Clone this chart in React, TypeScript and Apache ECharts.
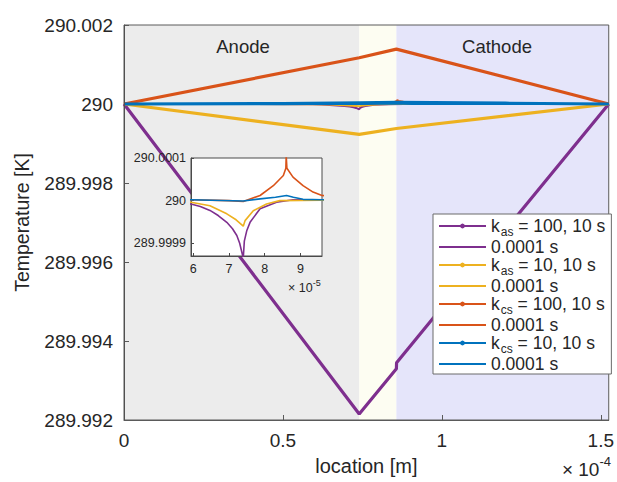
import React, { useEffect, useRef } from "react";
import * as echarts from "echarts";

const FONT = '"Liberation Sans", Arial, Helvetica, sans-serif';
const TXT = "#262626";

const PURPLE = "#7E2F8E";
const YELLOW = "#EDB120";
const ORANGE = "#D95319";
const BLUE = "#0072BD";

// region boundaries [m]
const anodeEnd = 0.74e-4;
const sepEnd = 0.857e-4;
const cellEnd = 1.525e-4;

// 10 s profiles
const kas100LongX = [0, 0.74e-4, 0.857e-4, 0.8575e-4, 1.525e-4];
const kas100LongT = [290, 289.99215, 289.9933, 289.99345, 290];
const kas10LongX = [0, 0.74e-4, 0.857e-4, 1.525e-4];
const kas10LongT = [290, 289.99923, 289.99938, 290];
const kcs100LongX = [0, 0.74e-4, 0.857e-4, 1.525e-4];
const kcs100LongT = [290, 290.00117, 290.00139, 290];
const kcs10LongX = [0, 0.5e-4, 0.74e-4, 0.857e-4, 1.2e-4, 1.525e-4];
const kcs10LongT = [290, 290.00001, 290.00003, 290.00004, 290.00002, 290];

// 0.0001 s profiles
const kas100ShortX = [0, 4.0e-5, 5.94e-5, 6.2e-5, 6.47e-5, 6.7e-5, 6.94e-5, 7.1e-5, 7.22e-5, 7.3e-5, 7.4e-5, 7.43e-5, 7.5e-5, 7.59e-5, 7.87e-5, 8.33e-5, 8.79e-5, 9.6e-5, 1.525e-4];
const kas100ShortT = [290, 289.999998, 289.999992, 289.999986, 289.999977, 289.999965, 289.999949, 289.999934, 289.999918, 289.9999, 289.999865, 289.999905, 289.99993, 289.999949, 289.999981, 289.999996, 290.000002, 290.000002, 290];
const kas10ShortX = [0, 4.0e-5, 5.94e-5, 6.47e-5, 6.94e-5, 7.2e-5, 7.4e-5, 7.45e-5, 7.68e-5, 8.05e-5, 8.42e-5, 9.6e-5, 1.525e-4];
const kas10ShortT = [290, 289.999999, 289.999996, 289.999988, 289.999969, 289.999955, 289.99994, 289.999953, 289.999976, 289.999992, 290, 290.000001, 290];
const kcs100ShortX = [0, 5.94e-5, 7.0e-5, 7.4e-5, 7.87e-5, 8.24e-5, 8.52e-5, 8.59e-5, 8.6e-5, 8.62e-5, 8.79e-5, 9.07e-5, 9.35e-5, 9.6e-5, 1.2e-4, 1.525e-4];
const kcs100ShortT = [290, 290.000002, 290, 289.999998, 290.000012, 290.000035, 290.000059, 290.000076, 290.000105, 290.000076, 290.000055, 290.000035, 290.00002, 290.000012, 290.000003, 290];
const kcs10ShortX = [0, 5.94e-5, 7.4e-5, 7.87e-5, 8.3e-5, 8.61e-5, 8.8e-5, 9.07e-5, 9.6e-5, 1.525e-4];
const kcs10ShortT = [290, 290.000002, 289.999999, 290.000004, 290.000008, 290.000012, 290.000008, 290.000003, 290.000002, 290];

// axes
const mainXTicks = { min: 0, max: 1.525e-4, interval: 0.5e-4 };
const mainYTicks = { min: 289.992, max: 290.002, interval: 0.002 };
const insetXTicks = [6e-5, 7e-5, 8e-5, 9e-5];
const insetYTicks = [289.9999, 290, 290.0001];
const insetXRange = [5.94e-5, 9.6e-5];
const insetYRange = [289.99987, 290.0001];

const seriesKeys = ["kas100L", "kas100S", "kas10L", "kas10S", "kcs100L", "kcs100S", "kcs10L", "kcs10S"];
const legendLabels = [
  "{m|k}{s|as}{m| = 100, 10 s}",
  "{m|0.0001 s}",
  "{m|k}{s|as}{m| = 10, 10 s}",
  "{m|0.0001 s}",
  "{m|k}{s|cs}{m| = 100, 10 s}",
  "{m|0.0001 s}",
  "{m|k}{s|cs}{m| = 10, 10 s}",
  "{m|0.0001 s}",
];

const zip = (xs: number[], ys: number[]) => xs.map((x, i) => [x, ys[i]]);

export default function App() {
  const ref = useRef<HTMLDivElement>(null);
  useEffect(() => {
    if (!ref.current) return;
    const chart = echarts.init(ref.current, null, { renderer: "svg" });

    const longSeries = (name: string, color: string, xs: number[], ts: number[]) => ({
      name,
      type: "line",
      data: zip(xs, ts),
      xAxisIndex: 0,
      yAxisIndex: 0,
      symbol: "circle",
      symbolSize: 4,
      showSymbol: false,
      lineStyle: { color, width: 3.2 },
      itemStyle: { color },
      z: 3,
      silent: true,
    });
    const shortSeries = (name: string, color: string, xs: number[], ts: number[]) => ({
      name,
      type: "line",
      data: zip(xs, ts),
      xAxisIndex: 0,
      yAxisIndex: 0,
      symbol: "none",
      lineStyle: { color, width: 2 },
      itemStyle: { color },
      z: 3,
      silent: true,
    });
    const insetSeries = (color: string, xs: number[], ts: number[]) => ({
      name: "inset",
      type: "line",
      data: zip(xs, ts),
      xAxisIndex: 1,
      yAxisIndex: 1,
      symbol: "none",
      clip: true,
      lineStyle: { color, width: 1.6 },
      z: 7,
      silent: true,
    });

    const nameMap: Record<string, string> = {};
    seriesKeys.forEach((k, i) => (nameMap[k] = legendLabels[i]));

    chart.setOption({
      animation: false,
      backgroundColor: "#ffffff",
      textStyle: { fontFamily: FONT },
      grid: [
        { left: 124, top: 25, width: 488, height: 395, show: true, borderColor: "#5a5a5a", borderWidth: 1, z: 2 },
        { left: 191, top: 158, width: 131, height: 98, show: true, backgroundColor: "#ffffff", borderColor: "#4a4a4a", borderWidth: 1, z: 5 },
      ],
      xAxis: [
        {
          type: "value",
          gridIndex: 0,
          min: mainXTicks.min,
          max: mainXTicks.max,
          interval: mainXTicks.interval,
          z: 2,
          name: "location [m]",
          nameLocation: "middle",
          nameGap: 36,
          nameTextStyle: { fontSize: 20, color: TXT, fontFamily: FONT },
          axisLine: { show: true, lineStyle: { color: "#5a5a5a" } },
          axisTick: { show: true, inside: true, length: 5, lineStyle: { color: "#5a5a5a" } },
          axisLabel: { fontSize: 19, color: TXT, fontFamily: FONT, margin: 11, formatter: (v: number) => String(+(v * 1e4).toFixed(2)) },
          splitLine: { show: false },
        },
        {
          type: "value",
          gridIndex: 1,
          min: insetXRange[0],
          max: insetXRange[1],
          z: 6,
          axisLine: { show: true, lineStyle: { color: "#4a4a4a" } },
          axisTick: { show: true, inside: true, length: 3, customValues: insetXTicks, lineStyle: { color: "#4a4a4a" } },
          axisLabel: { fontSize: 12.5, color: TXT, fontFamily: FONT, margin: 6, customValues: insetXTicks, formatter: (v: number) => String(Math.round(v * 1e5)) },
          splitLine: { show: false },
        },
      ],
      yAxis: [
        {
          type: "value",
          gridIndex: 0,
          min: mainYTicks.min,
          max: mainYTicks.max,
          interval: mainYTicks.interval,
          z: 2,
          name: "Temperature [K]",
          nameLocation: "middle",
          nameGap: 92,
          nameTextStyle: { fontSize: 19.5, color: TXT, fontFamily: FONT },
          axisLine: { show: true, lineStyle: { color: "#5a5a5a" } },
          axisTick: { show: true, inside: true, length: 5, lineStyle: { color: "#5a5a5a" } },
          axisLabel: { fontSize: 19, color: TXT, fontFamily: FONT, margin: 11, formatter: (v: number) => String(+v.toFixed(3)) },
          splitLine: { show: false },
        },
        {
          type: "value",
          gridIndex: 1,
          min: insetYRange[0],
          max: insetYRange[1],
          z: 6,
          axisLine: { show: true, lineStyle: { color: "#4a4a4a" } },
          axisTick: { show: true, inside: true, length: 3, customValues: insetYTicks, lineStyle: { color: "#4a4a4a" } },
          axisLabel: { fontSize: 12.5, color: TXT, fontFamily: FONT, margin: 5, customValues: insetYTicks, formatter: (v: number) => String(+v.toFixed(4)) },
          splitLine: { show: false },
        },
      ],
      legend: {
        orient: "vertical",
        left: 433,
        top: 214,
        z: 10,
        padding: [3, 6, 1, 5],
        itemWidth: 47,
        itemHeight: 6,
        itemGap: 0,
        backgroundColor: "#ffffff",
        borderColor: "#6a6a6a",
        borderWidth: 1,
        borderRadius: 0,
        selectedMode: false,
        data: seriesKeys.map((k, i) => (i % 2 === 1 ? { name: k, itemStyle: { opacity: 0 } } : { name: k })),
        formatter: (name: string) => nameMap[name] || name,
        textStyle: {
          rich: {
            m: { fontSize: 17.5, lineHeight: 24, color: TXT, fontFamily: FONT },
            s: { fontSize: 12, lineHeight: 12, verticalAlign: "bottom", padding: [0, 0, 0, 1], color: TXT, fontFamily: FONT },
          },
        },
      },
      graphic: [
        { type: "text", x: 243, y: 46, z: 10, style: { text: "Anode", font: `18.5px ${FONT}`, fill: TXT, align: "center", verticalAlign: "middle" } },
        { type: "text", x: 497, y: 46, z: 10, style: { text: "Cathode", font: `18.5px ${FONT}`, fill: TXT, align: "center", verticalAlign: "middle" } },
        {
          type: "text",
          right: 6,
          top: 455,
          z: 10,
          style: {
            text: "{a|× 10}{b|-4}",
            rich: {
              a: { fontSize: 19, fontFamily: FONT, fill: TXT, lineHeight: 24, verticalAlign: "bottom" },
              b: { fontSize: 13, fontFamily: FONT, fill: TXT, lineHeight: 24, verticalAlign: "top" },
            },
          },
        },
        {
          type: "text",
          left: 288,
          top: 278,
          z: 10,
          style: {
            text: "{a|× 10}{b|-5}",
            rich: {
              a: { fontSize: 12.5, fontFamily: FONT, fill: TXT, lineHeight: 16, verticalAlign: "bottom" },
              b: { fontSize: 9, fontFamily: FONT, fill: TXT, lineHeight: 16, verticalAlign: "top" },
            },
          },
        },
      ],
      series: [
        {
          name: "regions",
          type: "line",
          data: [],
          xAxisIndex: 0,
          yAxisIndex: 0,
          z: 1,
          silent: true,
          markArea: {
            silent: true,
            data: [
              [{ xAxis: 0, itemStyle: { color: "#ececec" } }, { xAxis: anodeEnd }],
              [{ xAxis: anodeEnd, itemStyle: { color: "#fdfdf2" } }, { xAxis: sepEnd }],
              [{ xAxis: sepEnd, itemStyle: { color: "#e5e5fa" } }, { xAxis: cellEnd }],
            ],
          },
        },
        {
          name: "boundaries",
          type: "line",
          data: [],
          xAxisIndex: 0,
          yAxisIndex: 0,
          z: 2,
          silent: true,
          markLine: {
            silent: true,
            symbol: "none",
            label: { show: false },
            lineStyle: { color: "#505050", width: 1, type: "solid" },
            data: [{ xAxis: anodeEnd }, { xAxis: sepEnd }],
          },
        },
        longSeries("kas100L", PURPLE, kas100LongX, kas100LongT),
        shortSeries("kas100S", PURPLE, kas100ShortX, kas100ShortT),
        longSeries("kas10L", YELLOW, kas10LongX, kas10LongT),
        shortSeries("kas10S", YELLOW, kas10ShortX, kas10ShortT),
        longSeries("kcs100L", ORANGE, kcs100LongX, kcs100LongT),
        shortSeries("kcs100S", ORANGE, kcs100ShortX, kcs100ShortT),
        longSeries("kcs10L", BLUE, kcs10LongX, kcs10LongT),
        shortSeries("kcs10S", BLUE, kcs10ShortX, kcs10ShortT),
        insetSeries(PURPLE, kas100ShortX, kas100ShortT),
        insetSeries(YELLOW, kas10ShortX, kas10ShortT),
        insetSeries(ORANGE, kcs100ShortX, kcs100ShortT),
        insetSeries(BLUE, kcs10ShortX, kcs10ShortT),
      ],
    });
    return () => chart.dispose();
  }, []);

  return <div ref={ref} style={{ position: "fixed", left: 0, top: 0, width: 617, height: 482 }} />;
}
